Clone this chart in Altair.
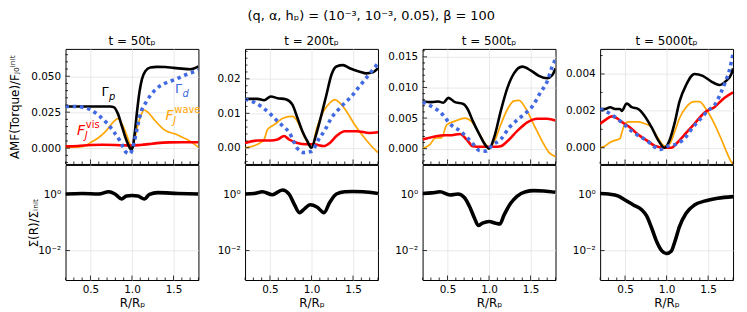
import altair as alt
import pandas as pd
import numpy as np

X_DOMAIN = [0.2, 1.8]
W, H = 134, 116

# ---------------- Panel 1 : t = 50 t_p ----------------
GP1_X = [0.2, 0.5, 0.74, 0.78, 0.83, 0.88, 0.93, 0.97, 0.99, 1.01, 1.03, 1.06, 1.09, 1.12, 1.16, 1.22, 1.3, 1.4, 1.5, 1.6, 1.7, 1.75, 1.8]
GP1_Y = [0.029, 0.029, 0.029, 0.0285, 0.024, 0.015, 0.006, 0.0005, -0.0012, 0.001, 0.009, 0.025, 0.039, 0.048, 0.0535, 0.056, 0.0565, 0.0564, 0.0558, 0.0553, 0.0548, 0.0555, 0.0568]
GD1_X = [0.2, 0.3, 0.44, 0.54, 0.62, 0.70, 0.78, 0.86, 0.93, 0.97, 1.0, 1.03, 1.07, 1.11, 1.17, 1.27, 1.39, 1.47, 1.55, 1.63, 1.72, 1.8]
GD1_Y = [0.029, 0.029, 0.028, 0.0253, 0.0218, 0.0173, 0.0115, 0.0046, -0.003, -0.004, -0.0015, 0.005, 0.016, 0.0253, 0.032, 0.040, 0.0449, 0.0467, 0.0485, 0.0506, 0.0525, 0.0545]
FW1_X = [0.2, 0.4, 0.52, 0.6, 0.68, 0.78, 0.835, 0.875, 0.935, 0.975, 1.0, 1.035, 1.07, 1.11, 1.145, 1.19, 1.27, 1.39, 1.55, 1.67, 1.75, 1.8]
FW1_Y = [0.0005, 0.001, 0.0046, 0.0074, 0.0115, 0.0184, 0.0207, 0.0173, 0.0092, 0.003, 0.0, 0.007, 0.016, 0.023, 0.0265, 0.025, 0.0196, 0.0127, 0.0092, 0.0058, 0.0028, 0.0005]
FV1_X = [0.2, 0.35, 0.5, 0.65, 0.8, 0.9, 1.0, 1.1, 1.2, 1.3, 1.45, 1.6, 1.8]
FV1_Y = [0.0012, 0.0015, 0.0022, 0.0023, 0.0022, 0.0019, 0.0018, 0.0022, 0.0028, 0.0035, 0.0040, 0.0041, 0.0041]
SG1_X = [0.2, 0.4, 0.6, 0.72, 0.795, 0.875, 0.935, 1.0, 1.07, 1.15, 1.21, 1.31, 1.55, 1.8]
SG1_Y = [1.0, 1.05, 1.0, 1.2, 1.0, 0.67, 0.85, 0.89, 0.85, 0.67, 0.98, 1.12, 1.05, 1.0]

# ---------------- Panel 2 : t = 200 t_p ----------------
GP2_X = [0.2, 0.35, 0.43, 0.51, 0.59, 0.69, 0.77, 0.83, 0.89, 0.95, 1.0, 1.05, 1.11, 1.18, 1.24, 1.30, 1.38, 1.46, 1.58, 1.66, 1.74, 1.8]
GP2_Y = [0.0142, 0.0142, 0.0138, 0.0149, 0.0144, 0.0141, 0.0125, 0.0087, 0.0048, 0.0019, 0.0, 0.0034, 0.0087, 0.0154, 0.0212, 0.0236, 0.024, 0.0231, 0.0221, 0.0216, 0.0219, 0.0231]
GD2_X = [0.2, 0.31, 0.41, 0.50, 0.57, 0.65, 0.73, 0.83, 0.91, 1.0, 1.085, 1.165, 1.24, 1.32, 1.40, 1.48, 1.56, 1.64, 1.72, 1.8]
GD2_Y = [0.0141, 0.0132, 0.0117, 0.0099, 0.0082, 0.0064, 0.0045, -0.0002, -0.0014, -0.001, 0.0024, 0.0053, 0.0087, 0.011, 0.013, 0.0149, 0.0173, 0.0197, 0.0221, 0.0245]
FW2_X = [0.2, 0.35, 0.43, 0.47, 0.55, 0.67, 0.77, 0.83, 0.91, 1.0, 1.065, 1.145, 1.22, 1.28, 1.34, 1.42, 1.52, 1.62, 1.72, 1.8]
FW2_Y = [0.0, 0.001, 0.0024, 0.0053, 0.0067, 0.0087, 0.0091, 0.0077, 0.0034, 0.0, 0.0058, 0.0106, 0.013, 0.014, 0.013, 0.0106, 0.0067, 0.0034, 0.0005, -0.0014]
FV2_X = [0.2, 0.35, 0.51, 0.59, 0.67, 0.73, 0.83, 0.93, 1.03, 1.145, 1.22, 1.30, 1.40, 1.54, 1.70, 1.8]
FV2_Y = [0.0014, 0.0021, 0.0021, 0.0024, 0.0034, 0.0024, 0.0014, 0.001, 0.001, 0.0005, 0.0014, 0.0034, 0.0048, 0.0048, 0.0043, 0.0045]
SG2_X = [0.2, 0.31, 0.41, 0.53, 0.65, 0.73, 0.79, 0.855, 0.905, 0.985, 1.065, 1.15, 1.22, 1.30, 1.40, 1.50, 1.62, 1.8]
SG2_Y = [1.0, 1.05, 1.2, 0.95, 1.4, 1.0, 0.45, 0.22, 0.28, 0.42, 0.35, 0.22, 0.51, 1.0, 1.2, 1.23, 1.2, 1.05]

# ---------------- Panel 3 : t = 500 t_p ----------------
GP3_X = [0.2, 0.31, 0.39, 0.45, 0.51, 0.59, 0.69, 0.745, 0.805, 0.885, 0.965, 1.0, 1.065, 1.14, 1.22, 1.30, 1.40, 1.5, 1.6, 1.7, 1.76, 1.8]
GP3_Y = [0.0077, 0.0076, 0.0077, 0.0075, 0.0083, 0.0076, 0.0073, 0.0064, 0.0045, 0.0023, 0.0004, 0.0, 0.002, 0.0061, 0.0099, 0.0123, 0.0134, 0.0128, 0.0119, 0.0115, 0.012, 0.0131]
GD3_X = [0.2, 0.31, 0.41, 0.55, 0.65, 0.73, 0.805, 0.885, 0.965, 1.04, 1.14, 1.24, 1.34, 1.44, 1.52, 1.62, 1.70, 1.76, 1.8]
GD3_Y = [0.0076, 0.0069, 0.006, 0.0038, 0.0029, 0.0019, 0.0008, -0.0003, -0.0004, 0.0006, 0.0015, 0.0034, 0.0047, 0.0058, 0.0069, 0.0092, 0.011, 0.0134, 0.0146]
FW3_X = [0.2, 0.29, 0.35, 0.43, 0.49, 0.59, 0.71, 0.785, 0.865, 0.945, 1.0, 1.065, 1.14, 1.22, 1.30, 1.36, 1.44, 1.54, 1.64, 1.72, 1.8]
FW3_Y = [0.0, 0.0007, 0.0017, 0.0018, 0.0039, 0.0045, 0.005, 0.0045, 0.0029, 0.001, 0.0002, 0.0012, 0.0039, 0.0064, 0.0078, 0.0079, 0.0066, 0.0039, 0.0012, -0.0006, -0.0013]
FV3_X = [0.2, 0.35, 0.47, 0.55, 0.65, 0.73, 0.805, 0.905, 1.065, 1.14, 1.22, 1.34, 1.46, 1.58, 1.70, 1.8]
FV3_Y = [0.0015, 0.002, 0.0022, 0.0022, 0.0024, 0.0015, 0.0004, 0.0003, 0.0003, 0.0004, 0.0012, 0.0029, 0.0043, 0.0049, 0.0049, 0.0046]
SG3_X = [0.2, 0.31, 0.41, 0.53, 0.625, 0.705, 0.765, 0.825, 0.87, 0.92, 1.0, 1.08, 1.13, 1.18, 1.26, 1.34, 1.44, 1.54, 1.66, 1.8]
SG3_Y = [1.05, 1.1, 1.2, 0.92, 1.0, 0.74, 0.36, 0.14, 0.078, 0.093, 0.107, 0.093, 0.087, 0.18, 0.47, 0.85, 1.2, 1.32, 1.29, 1.15]

# ---------------- Panel 4 : t = 5000 t_p ----------------
GP4_X = [0.2, 0.26, 0.32, 0.38, 0.44, 0.46, 0.52, 0.58, 0.66, 0.74, 0.82, 0.90, 0.976, 1.036, 1.1, 1.155, 1.235, 1.335, 1.435, 1.535, 1.635, 1.71, 1.78, 1.8]
GP4_Y = [0.0021, 0.0021, 0.0022, 0.0021, 0.0021, 0.002, 0.0024, 0.0022, 0.0021, 0.0017, 0.0011, 0.0004, 0.0, 0.0004, 0.0014, 0.0025, 0.0034, 0.004, 0.0039, 0.0036, 0.0034, 0.0036, 0.004, 0.0043]
GD4_X = [0.2, 0.30, 0.40, 0.48, 0.58, 0.68, 0.76, 0.84, 0.92, 1.02, 1.12, 1.215, 1.315, 1.415, 1.495, 1.575, 1.655, 1.71, 1.75, 1.8]
GD4_Y = [0.0021, 0.0019, 0.0016, 0.0013, 0.0009, 0.0006, 0.0004, 0.0001, -0.0001, 0.0001, 0.0002, 0.0005, 0.0011, 0.0016, 0.002, 0.0023, 0.003, 0.0036, 0.0041, 0.0051]
FW4_X = [0.2, 0.26, 0.32, 0.38, 0.44, 0.46, 0.50, 0.54, 0.66, 0.74, 0.82, 0.90, 0.976, 1.036, 1.1, 1.155, 1.235, 1.335, 1.395, 1.475, 1.575, 1.655, 1.71, 1.77, 1.8]
FW4_Y = [0.0, 0.0001, 0.0003, 0.0004, 0.0005, 0.0008, 0.0013, 0.0014, 0.0014, 0.0013, 0.0011, 0.0005, 0.0001, 0.0002, 0.0009, 0.0016, 0.0022, 0.0025, 0.0025, 0.0021, 0.0013, 0.0005, -0.0001, -0.0007, -0.0009]
FV4_X = [0.2, 0.26, 0.34, 0.40, 0.46, 0.56, 0.66, 0.76, 0.86, 0.976, 1.056, 1.135, 1.235, 1.335, 1.455, 1.575, 1.695, 1.8]
FV4_Y = [0.0013, 0.0015, 0.0017, 0.0016, 0.0014, 0.0011, 0.0007, 0.0004, 0.0001, 0.0, 0.0, 0.0003, 0.0008, 0.0013, 0.0019, 0.0022, 0.0027, 0.003]
SG4_X = [0.2, 0.30, 0.42, 0.50, 0.60, 0.70, 0.76, 0.82, 0.88, 0.94, 1.0, 1.056, 1.1, 1.155, 1.235, 1.335, 1.455, 1.615, 1.8]
SG4_Y = [1.05, 1.0, 0.85, 0.62, 0.41, 0.28, 0.17, 0.063, 0.021, 0.01, 0.0079, 0.0095, 0.021, 0.071, 0.21, 0.41, 0.56, 0.71, 0.81]

PANEL_TITLES = ["t = 50tₚ", "t = 200tₚ", "t = 500tₚ", "t = 5000tₚ"]
Y_DOMAINS = [[-0.011, 0.069], [-0.0047, 0.0287], [-0.0025, 0.0163], [-0.00088, 0.00536]]
Y_TICKS = [[0.0, 0.025, 0.05], [0.0, 0.01, 0.02], [0.0, 0.005, 0.01, 0.015], [0.0, 0.002, 0.004]]
Y_FORMATS = [".3f", ".2f", ".3f", ".3f"]
Y_MINOR_STEP = [0.005, 0.002, 0.001, 0.001]
SIGMA_DOMAIN = [0.00091, 10.7]
SIGMA_TICKS = [0.01, 1.0]
X_MAJOR = [0.5, 1.0, 1.5]

SERIES = [
    (GP1_X, GP1_Y, GD1_X, GD1_Y, FW1_X, FW1_Y, FV1_X, FV1_Y, SG1_X, SG1_Y),
    (GP2_X, GP2_Y, GD2_X, GD2_Y, FW2_X, FW2_Y, FV2_X, FV2_Y, SG2_X, SG2_Y),
    (GP3_X, GP3_Y, GD3_X, GD3_Y, FW3_X, FW3_Y, FV3_X, FV3_Y, SG3_X, SG3_Y),
    (GP4_X, GP4_Y, GD4_X, GD4_Y, FW4_X, FW4_Y, FV4_X, FV4_Y, SG4_X, SG4_Y),
]

# annotation labels (panel 1): (x, y, base text, sub, sup, color)
ANNOT = [
    (0.675, 0.0391, "Γ", "p", "", "black"),
    (1.56, 0.0409, "Γ", "d", "", "#4169E1"),
    (0.385, 0.0120, "F", "J", "vis", "red"),
    (1.45, 0.0223, "F", "J", "wave", "orange"),
]

BLACK = "black"
BLUE = "#4169E1"
ORANGE = "orange"
RED = "red"

xscale = alt.Scale(domain=X_DOMAIN, nice=False, zero=False)
minor_x = [round(v, 2) for v in np.arange(0.2, 1.81, 0.1) if round(v, 2) not in X_MAJOR]


def make_helpers(yscale, xaxis, yaxis):
    def line(xs, ys, color, sw, dash=None):
        df = pd.DataFrame({"x": xs, "y": ys})
        kw = dict(color=color, strokeWidth=sw, clip=True, interpolate="monotone")
        if dash:
            kw["strokeDash"] = dash
            kw["strokeCap"] = "butt"
        return alt.Chart(df).mark_line(**kw).encode(
            x=alt.X("x:Q", scale=xscale, axis=xaxis),
            y=alt.Y("y:Q", scale=yscale, axis=yaxis),
        )

    def xticks(length, vals):
        df = pd.DataFrame({"x": vals})
        return alt.Chart(df).mark_rule(color="black", strokeWidth=0.8).encode(
            x=alt.X("x:Q", scale=xscale, axis=xaxis),
            y=alt.value(H), y2=alt.value(H - length))

    def yticks(length, vals):
        df = pd.DataFrame({"y": vals})
        return alt.Chart(df).mark_rule(color="black", strokeWidth=0.8).encode(
            y=alt.Y("y:Q", scale=yscale, axis=yaxis),
            x=alt.value(0), x2=alt.value(length))

    return line, xticks, yticks


cols = []
for i in range(4):
    gpx, gpy, gdx, gdy, fwx, fwy, fvx, fvy, sgx, sgy = SERIES[i]
    yscale = alt.Scale(domain=Y_DOMAINS[i], nice=False, zero=False)
    yaxis = alt.Axis(values=Y_TICKS[i], format=Y_FORMATS[i], grid=True, ticks=False,
                     domain=False, labelPadding=5, minExtent=35, maxExtent=35,
                     title="AMF(Torque)/Fⱼ₀ⁱⁿⁱᵗ" if i == 0 else None, titlePadding=9)
    xaxis_top = alt.Axis(values=X_MAJOR, labels=False, ticks=False, domain=False,
                         grid=True, title=None, minExtent=0, maxExtent=0)
    line, xticks, yticks = make_helpers(yscale, xaxis_top, yaxis)
    lo, hi = Y_DOMAINS[i]
    st = Y_MINOR_STEP[i]
    minor_y = [round(v, 6) for v in np.arange(np.ceil(lo / st) * st, hi, st)
               if all(abs(v - t) > 1e-9 for t in Y_TICKS[i])]
    layers = [
        line(fwx, fwy, ORANGE, 1.7),
        line(fvx, fvy, RED, 2.6),
        line(gpx, gpy, BLACK, 2.6),
        line(gdx, gdy, BLUE, 3.6, dash=[3.5, 3.8]),
        xticks(4.5, X_MAJOR),
        xticks(2.5, minor_x),
        yticks(4.5, Y_TICKS[i]),
        yticks(2.5, minor_y),
    ]
    if i == 0:
        for (ax, ay, base, sub, sup, col) in ANNOT:
            d = pd.DataFrame({"x": [ax], "y": [ay]})
            enc = dict(x=alt.X("x:Q", scale=xscale, axis=xaxis_top),
                       y=alt.Y("y:Q", scale=yscale, axis=yaxis))
            fs = 13 if base == "Γ" else 14
            layers.append(alt.Chart(d).mark_text(text=base, color=col, fontSize=fs,
                                                 fontStyle="normal" if base == "Γ" else "italic",
                                                 align="center", baseline="middle").encode(**enc))
            layers.append(alt.Chart(d).mark_text(text=sub, color=col, fontSize=10, fontStyle="italic",
                                                 align="left", baseline="middle", dx=4, dy=5).encode(**enc))
            if sup:
                layers.append(alt.Chart(d).mark_text(text=sup, color=col, fontSize=10,
                                                     align="left", baseline="middle", dx=5, dy=-6).encode(**enc))
    top = alt.layer(*layers).properties(
        width=W, height=H,
        title=alt.TitleParams(PANEL_TITLES[i], fontSize=12, fontWeight="normal", offset=1))

    sscale = alt.Scale(type="log", domain=SIGMA_DOMAIN, nice=False)
    saxis = alt.Axis(values=SIGMA_TICKS, labelExpr="datum.value < 0.1 ? '10⁻²' : '10⁰'",
                     grid=True, ticks=False, domain=False, labelPadding=5,
                     minExtent=24, maxExtent=24,
                     title="Σ(R)/Σᵢₙᵢₜ" if i == 0 else None, titleX=-25)
    xaxis_bot = alt.Axis(values=X_MAJOR, format=".1f", grid=True, ticks=False, domain=False,
                         labelPadding=5, title="R/Rₚ", titlePadding=2)
    bline, bxticks, byticks = make_helpers(sscale, xaxis_bot, saxis)
    bottom = alt.layer(
        bline(sgx, sgy, BLACK, 3.6),
        bxticks(4.5, X_MAJOR),
        bxticks(2.5, minor_x),
        byticks(4.5, SIGMA_TICKS),
    ).properties(width=W, height=H)
    cols.append(alt.vconcat(top, bottom, spacing=-4))

chart = alt.hconcat(*cols, spacing=8).properties(
    title=alt.TitleParams("(q, α, hₚ) = (10⁻³, 10⁻³, 0.05), β = 100",
                          fontSize=13, fontWeight="normal", anchor="middle", offset=12),
    padding={"left": 0, "top": 0, "right": 5, "bottom": 0},
).configure(font="DejaVu Sans").configure_view(
    stroke="black", strokeWidth=1
).configure_axis(
    labelFontSize=10.5, labelColor="black", titleFontSize=12, titleFontWeight="normal",
    titleColor="black", gridColor="#e3e3e3", gridWidth=0.8
).configure_title(color="black")

chart.save("out.html", embed_options={"renderer": "svg", "actions": False})
